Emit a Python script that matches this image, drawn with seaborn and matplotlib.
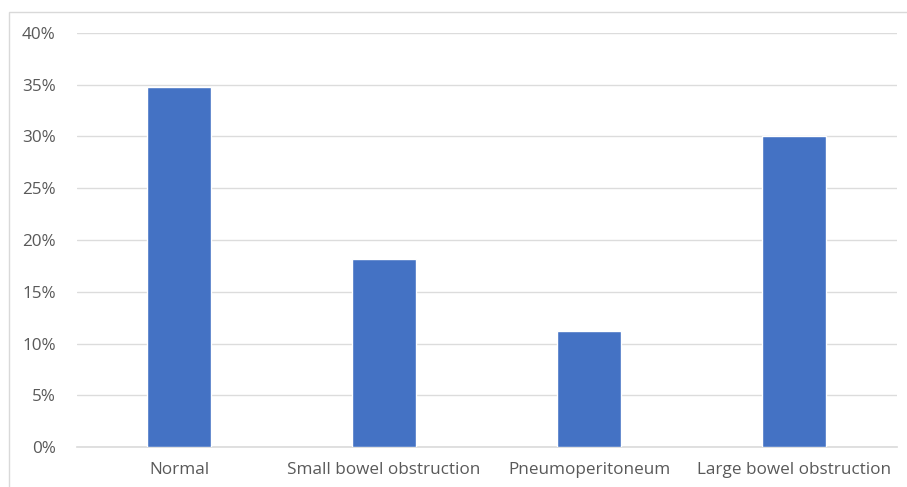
import matplotlib
matplotlib.use("Agg")
import matplotlib.pyplot as plt
import matplotlib.patches as mpatches
from matplotlib.ticker import FuncFormatter, MultipleLocator
import seaborn as sns
import pandas as pd

categories = ["Normal", "Small bowel obstruction", "Pneumoperitoneum", "Large bowel obstruction"]
percentages = [34.8, 18.2, 11.2, 30.0]

df = pd.DataFrame({"category": categories, "percent": percentages})

sns.set_theme(style="white")
plt.rcParams["font.family"] = ["Open Sans", "DejaVu Sans"]

W, H = 907, 487
fig = plt.figure(figsize=(W / 100, H / 100), dpi=100)
ax = fig.add_axes([76.5 / W, 1 - 447 / H, (896.5 - 76.5) / W, (447 - 33) / H])

sns.barplot(data=df, x="category", y="percent", color="#4472C4", width=0.31,
            saturation=1, ax=ax, zorder=3)

ax.set_ylim(0, 40)
ax.set_xlim(-0.5, 3.5)
ax.yaxis.set_major_locator(MultipleLocator(5))
ax.yaxis.set_major_formatter(FuncFormatter(lambda v, _: f"{v:.0f}%"))
ax.grid(axis="y", color="#dcdcdc", linewidth=1.0, zorder=0)
ax.set_xlabel("")
ax.set_ylabel("")
for s in ax.spines.values():
    s.set_visible(False)
ax.spines["bottom"].set_visible(True)
ax.spines["bottom"].set_color("#dcdcdc")
ax.tick_params(axis="both", length=0, labelsize=12.3, colors="#595959")
ax.tick_params(axis="y", pad=15)
ax.tick_params(axis="x", pad=11)

# chart area frame
fig.patches.append(mpatches.Rectangle((9 / W, -0.1), 1.2, 1.1 - 12 / H,
                                      transform=fig.transFigure, fill=False,
                                      edgecolor="#d9d9d9", linewidth=1.0))

fig.savefig("out.png", dpi=100)
